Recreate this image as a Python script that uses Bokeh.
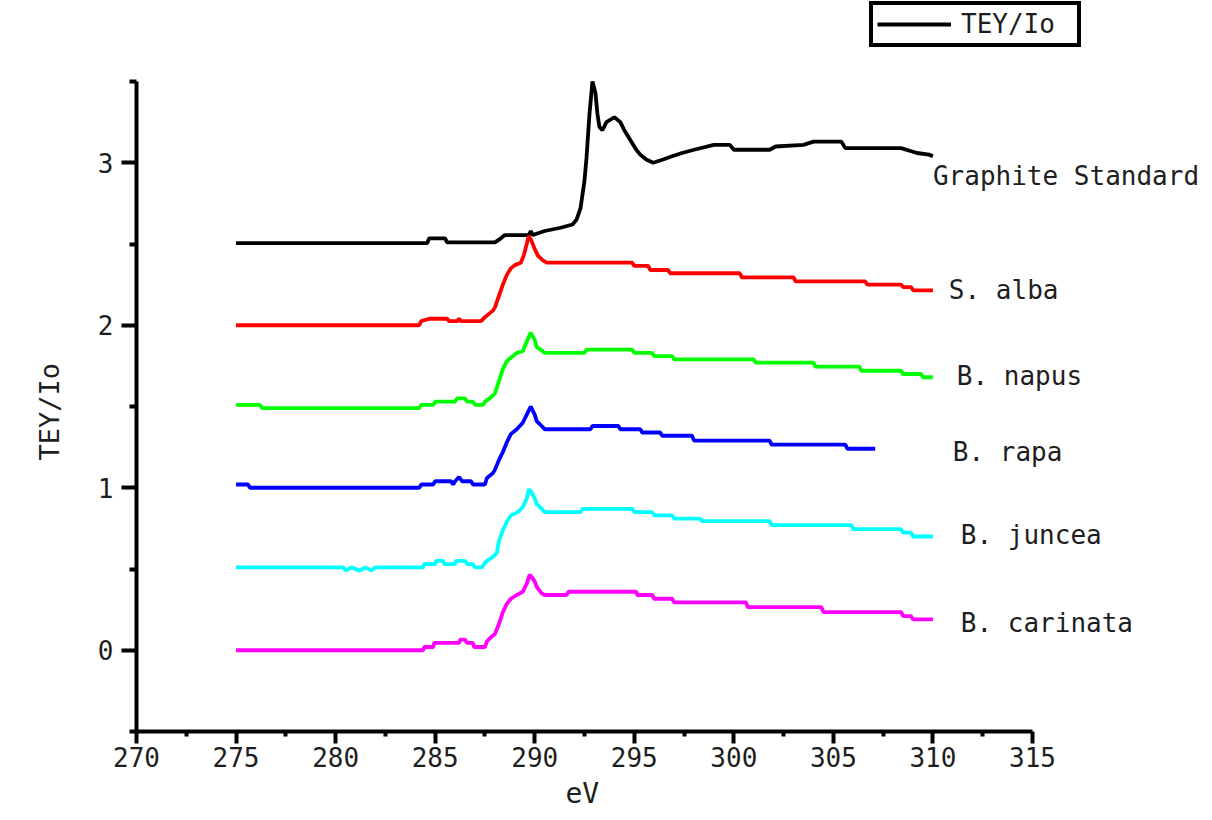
from bokeh.plotting import figure
from bokeh.models import Range1d, FixedTicker, Label, Legend, LegendItem, Title
from bokeh.embed import file_html
from bokeh.resources import INLINE

# ---- spectra: photon energy (eV) and normalised TEY/Io, each trace offset by 0.5 ----
graphite_ev = [275, 284.6, 284.7, 285.5, 285.6, 288.0, 288.3, 288.5, 289.7, 289.8, 289.9,
               290.5, 291.3, 291.9, 292.1, 292.3, 292.5, 292.6, 292.75, 292.9, 293.05,
               293.15, 293.25, 293.4, 293.6, 294.0, 294.3, 294.5, 294.7, 294.9, 295.1,
               295.3, 295.6, 295.95, 296.45, 296.9, 297.4, 298.0, 299.0, 299.8, 300.0,
               301.8, 302.1, 303.5, 304.0, 305.4, 305.6, 308.4, 309.2, 309.8, 310.0]
graphite_tey = [2.505, 2.505, 2.535, 2.535, 2.51, 2.51, 2.535, 2.555, 2.555, 2.58, 2.555,
                2.58, 2.60, 2.62, 2.65, 2.72, 2.89, 3.03, 3.30, 3.50, 3.43,
                3.30, 3.22, 3.20, 3.25, 3.28, 3.25, 3.20, 3.16, 3.12, 3.08,
                3.05, 3.02, 3.00, 3.02, 3.04, 3.06, 3.08, 3.11, 3.11, 3.08,
                3.08, 3.10, 3.11, 3.13, 3.13, 3.09, 3.09, 3.06, 3.05, 3.04]

alba_ev = [275, 284.2, 284.3, 284.7, 285.6, 285.7, 286.1, 286.2, 286.3, 287.3, 287.5, 287.7,
           287.9, 288.0, 288.2, 288.4, 288.6, 288.8, 289.0, 289.3, 289.45, 289.6, 289.7,
           289.8, 290.0, 290.15, 290.4, 290.6, 294.9, 295.0, 295.7, 295.8, 296.7, 296.8,
           300.3, 300.4, 303.0, 303.1, 306.6, 306.7, 308.4, 308.5, 308.9, 309.0, 310.0]
alba_tey = [2.0, 2.0, 2.025, 2.04, 2.04, 2.025, 2.025, 2.04, 2.025, 2.025, 2.05, 2.07,
            2.09, 2.11, 2.18, 2.25, 2.31, 2.35, 2.37, 2.385, 2.43, 2.50, 2.55,
            2.53, 2.47, 2.43, 2.40, 2.385, 2.385, 2.365, 2.365, 2.34, 2.34, 2.32,
            2.32, 2.295, 2.295, 2.27, 2.27, 2.25, 2.25, 2.235, 2.235, 2.215, 2.215]

napus_ev = [275, 276.2, 276.3, 284.2, 284.3, 284.9, 285.0, 286.0, 286.1, 286.5, 286.6, 286.9,
            287.0, 287.4, 287.5, 287.8, 288.0, 288.2, 288.4, 288.6, 288.9, 289.1, 289.4,
            289.6, 289.8, 290.0, 290.1, 290.35, 290.5, 292.5, 292.6, 294.9, 295.0, 295.9,
            296.0, 296.9, 297.0, 301.0, 301.1, 304.0, 304.1, 306.3, 306.4, 308.4, 308.5,
            309.4, 309.5, 310.0]
napus_tey = [1.51, 1.51, 1.49, 1.49, 1.51, 1.51, 1.53, 1.53, 1.55, 1.55, 1.53, 1.53,
             1.51, 1.51, 1.53, 1.556, 1.58, 1.655, 1.73, 1.78, 1.81, 1.83, 1.84,
             1.90, 1.955, 1.91, 1.865, 1.846, 1.83, 1.83, 1.85, 1.85, 1.83, 1.83,
             1.81, 1.81, 1.79, 1.79, 1.77, 1.77, 1.745, 1.745, 1.72, 1.72, 1.70,
             1.70, 1.68, 1.68]

rapa_ev = [275, 275.6, 275.7, 284.2, 284.3, 284.9, 285.0, 285.8, 285.9, 286.0, 286.2, 286.35,
           286.8, 286.9, 287.5, 287.6, 287.9, 288.0, 288.2, 288.4, 288.6, 288.8, 289.1,
           289.4, 289.6, 289.8, 290.0, 290.1, 290.35, 290.5, 292.8, 292.9, 294.2, 294.3,
           295.3, 295.4, 296.3, 296.4, 297.9, 298.0, 301.8, 301.9, 305.6, 305.7, 307.1]
rapa_tey = [1.02, 1.02, 1.0, 1.0, 1.02, 1.02, 1.04, 1.04, 1.02, 1.04, 1.066, 1.04,
            1.04, 1.02, 1.02, 1.06, 1.09, 1.11, 1.17, 1.22, 1.28, 1.33, 1.36,
            1.40, 1.45, 1.50, 1.45, 1.41, 1.38, 1.36, 1.36, 1.38, 1.38, 1.36,
            1.36, 1.34, 1.34, 1.32, 1.32, 1.29, 1.29, 1.265, 1.265, 1.24, 1.24]

juncea_ev = [275, 280.4, 280.5, 280.8, 281.2, 281.5, 281.8, 282.0, 284.4, 284.45, 285.0,
             285.05, 285.4, 285.45, 286.0, 286.05, 286.5, 286.6, 286.9, 287.0, 287.35,
             287.45, 287.6, 287.9, 288.1, 288.2, 288.4, 288.6, 288.8, 289.15, 289.4,
             289.6, 289.7, 289.8, 290.0, 290.1, 290.35, 290.5, 292.3, 292.4, 294.9, 295.0,
             295.9, 296.0, 296.9, 297.0, 298.3, 298.4, 301.8, 301.9, 305.9, 306.0, 308.4,
             308.5, 308.9, 309.0, 310.0]
juncea_tey = [0.51, 0.51, 0.49, 0.51, 0.49, 0.51, 0.49, 0.51, 0.51, 0.53, 0.53,
              0.55, 0.55, 0.53, 0.53, 0.55, 0.55, 0.53, 0.53, 0.51, 0.51,
              0.53, 0.55, 0.574, 0.60, 0.67, 0.74, 0.79, 0.83, 0.85, 0.88,
              0.934, 0.99, 0.98, 0.934, 0.90, 0.87, 0.85, 0.85, 0.87, 0.87, 0.85,
              0.85, 0.83, 0.83, 0.81, 0.81, 0.795, 0.795, 0.77, 0.77, 0.745, 0.745,
              0.724, 0.724, 0.70, 0.70]

carinata_ev = [275, 284.4, 284.45, 284.9, 284.95, 286.2, 286.25, 286.5, 286.6, 286.9, 286.95,
               287.5, 287.6, 287.8, 288.0, 288.2, 288.4, 288.6, 288.8, 289.1, 289.4, 289.6,
               289.75, 289.85, 290.0, 290.1, 290.35, 290.5, 291.6, 291.7, 295.1, 295.15,
               295.9, 296.0, 296.9, 297.0, 300.6, 300.7, 304.4, 304.5, 308.4, 308.5, 308.9,
               309.0, 310.0]
carinata_tey = [0.0, 0.0, 0.02, 0.02, 0.045, 0.045, 0.065, 0.065, 0.045, 0.045, 0.02,
                0.02, 0.055, 0.08, 0.10, 0.16, 0.235, 0.285, 0.317, 0.34, 0.36, 0.41,
                0.465, 0.45, 0.424, 0.39, 0.35, 0.34, 0.34, 0.36, 0.36, 0.34,
                0.34, 0.317, 0.317, 0.295, 0.295, 0.265, 0.265, 0.235, 0.235, 0.21, 0.21,
                0.19, 0.19]

series_names = ["Graphite Standard", "S. alba", "B. napus", "B. rapa", "B. juncea", "B. carinata"]
series_ev = [graphite_ev, alba_ev, napus_ev, rapa_ev, juncea_ev, carinata_ev]
series_tey = [graphite_tey, alba_tey, napus_tey, rapa_tey, juncea_tey, carinata_tey]
series_colors = ["#000000", "#ff0000", "#00ff00", "#0000ff", "#00ffff", "#ff00ff"]

# where each trace name is written (eV, TEY/Io)
name_ev = [310.0, 310.8, 311.2, 311.0, 311.4, 311.4]
name_tey = [2.92, 2.22, 1.69, 1.22, 0.71, 0.17]

x_ticks = [270, 275, 280, 285, 290, 295, 300, 305, 310, 315]
x_minor = [272.5, 277.5, 282.5, 287.5, 292.5, 297.5, 302.5, 307.5, 312.5]
y_ticks = [0, 1, 2, 3]
y_minor = [-0.5, 0.5, 1.5, 2.5, 3.5]

FONT = "DejaVu Sans Mono"
TEXT = "#1e1e1e"

W, H = 1212, 820
LEFT, BOTTOM = 136, 89          # room for the axes
X_AXIS = (270, 315)
Y_AXIS = (-0.5, 3.5)
px_per_ev = 896 / (X_AXIS[1] - X_AXIS[0])
px_per_unit = 162.5

# the drawing area runs to the page edges so that the names and the key fit;
# the axis lines themselves stop at 315 eV and 3.5
x_end = X_AXIS[0] + (W - LEFT) / px_per_ev
y_end = Y_AXIS[0] + (H - BOTTOM) / px_per_unit

p = figure(width=W, height=H, output_backend="svg", toolbar_location=None,
           x_range=Range1d(X_AXIS[0], x_end), y_range=Range1d(Y_AXIS[0], y_end),
           min_border_left=LEFT, min_border_right=0, min_border_top=0,
           min_border_bottom=BOTTOM)
p.outline_line_color = None
p.xgrid.visible = False
p.ygrid.visible = False
p.background_fill_color = "white"
p.border_fill_color = "white"

renderers = []
for ev, tey, col in zip(series_ev, series_tey, series_colors):
    r = p.line(ev, tey, line_color=col, line_width=3.8)
    renderers.append(r)

for name, xe, ye in zip(series_names, name_ev, name_tey):
    p.add_layout(Label(x=xe, y=ye, text=name, x_units="data", y_units="data",
                       text_baseline="middle", text_align="left",
                       text_font=FONT, text_font_size="26px", text_color=TEXT))

# axes
for ax in (p.xaxis[0], p.yaxis[0]):
    ax.axis_line_width = 4
    ax.axis_line_color = "black"
    ax.major_tick_line_width = 4
    ax.minor_tick_line_width = 4
    ax.major_tick_in = 0
    ax.minor_tick_in = 0
    ax.major_label_text_font = FONT
    ax.major_label_text_font_size = "26px"
    ax.major_label_text_color = TEXT

p.xaxis.bounds = X_AXIS
p.xaxis.ticker = FixedTicker(ticks=x_ticks, minor_ticks=x_minor)
p.xaxis.major_tick_out = 12
p.xaxis.minor_tick_out = 5
p.xaxis.major_label_standoff = 3

p.yaxis.bounds = Y_AXIS
p.yaxis.ticker = FixedTicker(ticks=y_ticks, minor_ticks=y_minor)
p.yaxis.major_tick_out = 15
p.yaxis.minor_tick_out = 7
p.yaxis.major_label_standoff = 8
p.yaxis.major_label_orientation = "horizontal"

# axis titles, placed along the 270-315 / -0.5-3.5 axes rather than the wider drawing area
p.add_layout(Title(text="eV", align="left", offset=(565 - LEFT),
                   text_font=FONT, text_font_size="28px",
                   text_font_style="normal", text_color=TEXT), "below")
p.add_layout(Title(text="TEY/Io", align="left", offset=(H - BOTTOM - 460),
                   standoff=60,
                   text_font=FONT, text_font_size="27px",
                   text_font_style="normal", text_color=TEXT), "left")

legend = Legend(items=[LegendItem(label="TEY/Io", renderers=[renderers[0]])],
                location=(733, 684), orientation="vertical",
                border_line_color="black", border_line_width=4, border_line_alpha=1.0,
                background_fill_color="white", background_fill_alpha=1.0,
                padding=4, margin=0, spacing=0,
                glyph_width=74, glyph_height=18, label_height=18, label_width=112,
                label_standoff=10, label_text_font=FONT,
                label_text_font_size="26px", label_text_color=TEXT,
                label_text_baseline="middle")
p.add_layout(legend)

open("out.html", "w").write(file_html(p, INLINE))
